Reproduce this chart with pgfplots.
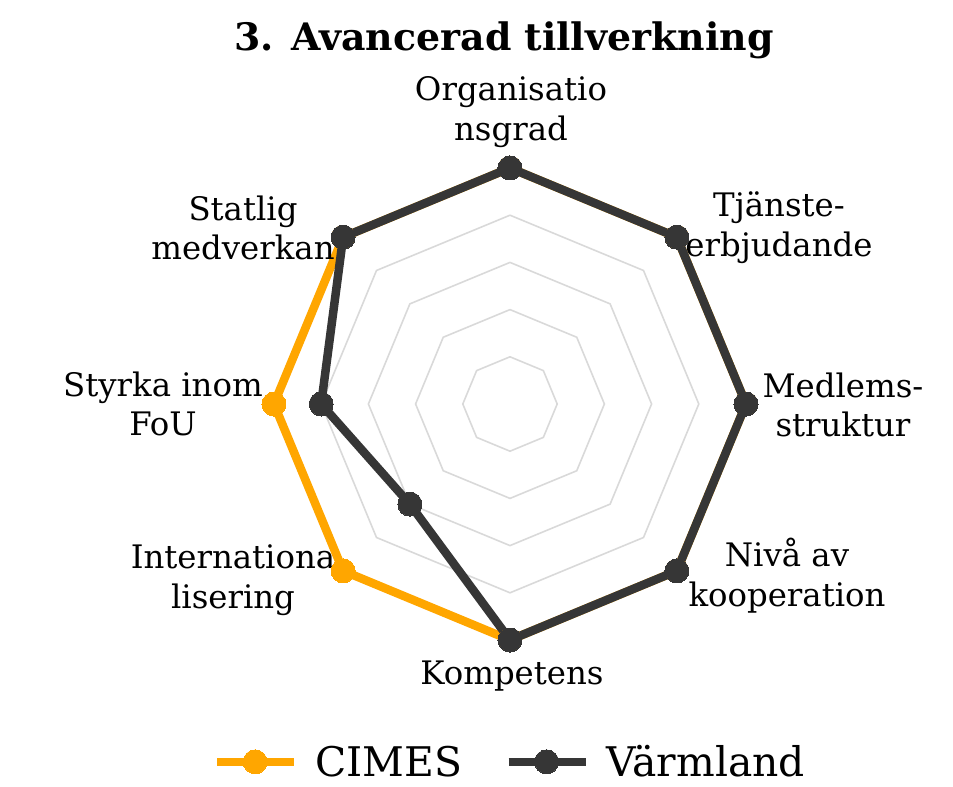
\documentclass[border=0pt]{standalone}
\usepackage{pgfplots}
\pgfplotsset{compat=1.18}
\usepgfplotslibrary{polar}
\usepackage{fontspec}
\setmainfont{DejaVu Serif}
\definecolor{cimes}{RGB}{255,166,0}
\definecolor{varm}{RGB}{54,54,54}
\definecolor{gridc}{RGB}{217,217,217}
\begin{document}
\begin{tikzpicture}
\begin{polaraxis}[
  hide axis, scale only axis, width=472bp, height=472bp,
  ymin=0, ymax=5, clip=false,
  legend columns=2,
  legend style={at={(0.5,-0.258)}, anchor=center, draw=none, fill=none,
    font=\fontsize{41}{48}\selectfont,
    /tikz/every even column/.append style={column sep=40bp}},
  legend image code/.code={\draw[mark repeat=2,mark phase=2,#1] plot coordinates {(0bp,0bp)(38bp,0bp)(77bp,0bp)}; \path (92bp,0bp);},
]
\path (axis cs:0,0) ++(-510bp,-383bp) rectangle ++(953bp,787bp);
% grid octagons
\addplot[gridc, line width=1.6bp, forget plot] coordinates {(90,1)(45,1)(0,1)(-45,1)(-90,1)(-135,1)(-180,1)(-225,1)(-270,1)};
\addplot[gridc, line width=1.6bp, forget plot] coordinates {(90,2)(45,2)(0,2)(-45,2)(-90,2)(-135,2)(-180,2)(-225,2)(-270,2)};
\addplot[gridc, line width=1.6bp, forget plot] coordinates {(90,3)(45,3)(0,3)(-45,3)(-90,3)(-135,3)(-180,3)(-225,3)(-270,3)};
\addplot[gridc, line width=1.6bp, forget plot] coordinates {(90,4)(45,4)(0,4)(-45,4)(-90,4)(-135,4)(-180,4)(-225,4)(-270,4)};
\addplot[gridc, line width=1.6bp, forget plot] coordinates {(90,5)(45,5)(0,5)(-45,5)(-90,5)(-135,5)(-180,5)(-225,5)(-270,5)};
% series: Organisationsgrad, Tjänsteerbjudande, Medlemsstruktur, Nivå av kooperation, Kompetens, Internationalisering, Styrka inom FoU, Statlig medverkan
\addplot[cimes, line width=8.5bp, line join=round, mark=*, mark size=12bp, mark options={fill=cimes, draw=cimes, line width=0pt}]
  coordinates {(90,5)(45,5)(0,5)(-45,5)(-90,5)(-135,5)(-180,5)(-225,5)(-270,5)};
\addlegendentry{CIMES}
\addplot[varm, line width=8.5bp, line join=round, mark=*, mark size=12bp, mark options={fill=varm, draw=varm, line width=0pt}]
  coordinates {(90,5)(45,5)(0,5)(-45,5)(-90,5)(-135,3)(-180,4)(-225,5)(-270,5)};
\addlegendentry{Värmland}
% labels
\begin{scope}[every node/.style={align=center, font=\fontsize{32.5}{40}\selectfont, inner sep=0pt}]
\node at ([shift={(1bp,292bp)}]axis cs:0,0) {Organisatio\\nsgrad};
\node at ([shift={(269bp,176bp)}]axis cs:0,0) {Tjänste-\\erbjudande};
\node at ([shift={(333bp,-1bp)}]axis cs:0,0) {Medlems-\\struktur};
\node at ([shift={(277bp,-172bp)}]axis cs:0,0) {Nivå av\\kooperation};
\node at ([shift={(2bp,-272bp)}]axis cs:0,0) {Kompetens};
\node at ([shift={(-277bp,-176bp)}]axis cs:0,0) {Internationa\\lisering};
\node at ([shift={(-347bp,0bp)}]axis cs:0,0) {Styrka inom\\FoU};
\node at ([shift={(-267bp,176bp)}]axis cs:0,0) {Statlig\\medverkan};
\node[font=\bfseries\fontsize{38}{44}\selectfont] at ([shift={(-6bp,364bp)}]axis cs:0,0) {3. Avancerad tillverkning};
\end{scope}
\end{polaraxis}
\end{tikzpicture}
\end{document}
